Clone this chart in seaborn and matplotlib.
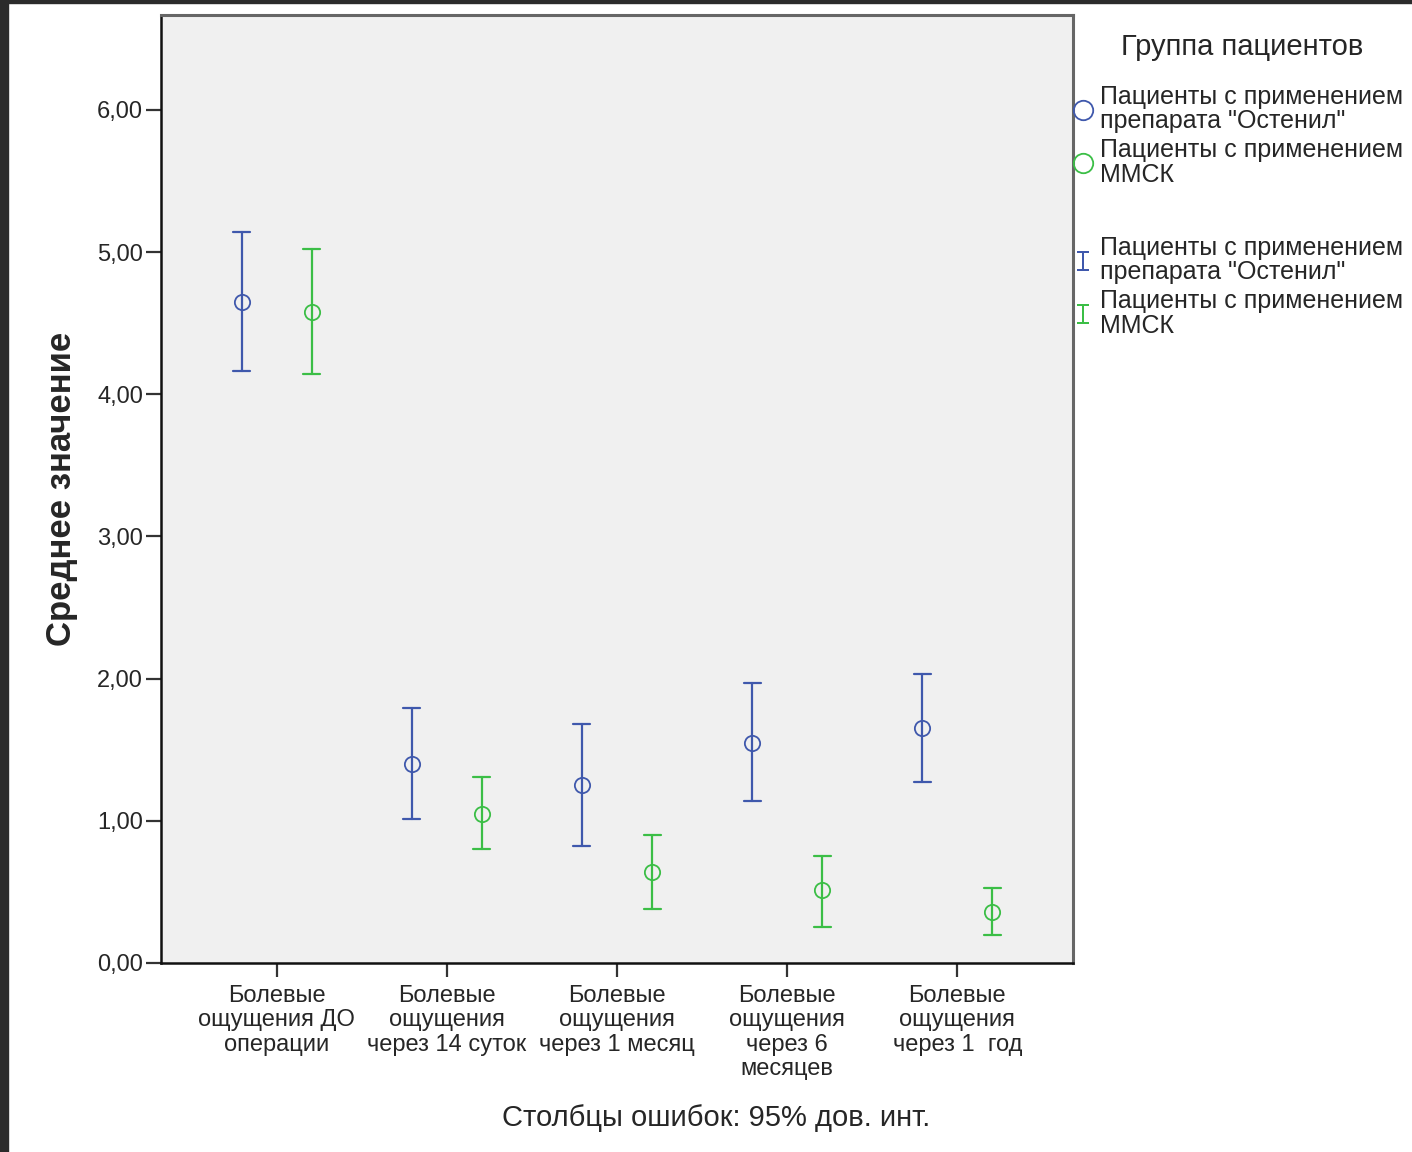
import numpy as np
import pandas as pd
import matplotlib
matplotlib.use("Agg")
import matplotlib.pyplot as plt
from matplotlib.lines import Line2D
from matplotlib.patches import Rectangle
from matplotlib.ticker import FuncFormatter
import seaborn as sns

# категории (ось X)
categories = [
    "Болевые\nощущения ДО\nоперации",
    "Болевые\nощущения\nчерез 14 суток",
    "Болевые\nощущения\nчерез 1 месяц",
    "Болевые\nощущения\nчерез 6\nмесяцев",
    "Болевые\nощущения\nчерез 1  год",
]
groups = [
    "Пациенты с применением\nпрепарата \"Остенил\"",
    "Пациенты с применением\nММСК",
]

# средние и границы 95% ДИ
ostenil_mean = [4.65, 1.40, 1.25, 1.55, 1.65]
ostenil_low = [4.16, 1.01, 0.82, 1.14, 1.27]
ostenil_high = [5.14, 1.79, 1.68, 1.97, 2.03]

mmsk_mean = [4.58, 1.05, 0.64, 0.51, 0.36]
mmsk_low = [4.14, 0.80, 0.38, 0.25, 0.20]
mmsk_high = [5.02, 1.31, 0.90, 0.75, 0.53]

colors = ["#3F58AC", "#3BBE46"]

# длинная таблица: нижняя граница, среднее, верхняя граница
rows = []
for g, (m, lo, hi) in zip(groups, [(ostenil_mean, ostenil_low, ostenil_high),
                                    (mmsk_mean, mmsk_low, mmsk_high)]):
    for c, a, b, d in zip(categories, lo, m, hi):
        for v in (a, b, d):
            rows.append({"cat": c, "group": g, "value": v})
df = pd.DataFrame(rows)

sns.set_style("ticks")
plt.rcParams["font.family"] = ["Liberation Sans", "DejaVu Sans"]

fig = plt.figure(figsize=(14.12, 11.52), dpi=100)
ax = fig.add_axes([161 / 1412, 1 - 963 / 1152, (1073 - 161) / 1412, (963 - 15) / 1152])

sns.pointplot(
    data=df, x="cat", y="value", hue="group",
    order=categories, hue_order=groups, palette=colors,
    estimator="median", errorbar=lambda v: (v.min(), v.max()),
    dodge=0.412, linestyle="none", markers="o", capsize=0.1,
    markersize=11, markeredgewidth=1.3, markerfacecolor="none",
    err_kws={"linewidth": 1.6}, legend=False, ax=ax,
)

ax.set_facecolor("#F0F0F0")
ax.set_xlim(-0.68, 4.68)
ax.set_ylim(0, 6.667)
ax.set_yticks(np.arange(0, 7, 1))
ax.yaxis.set_major_formatter(FuncFormatter(lambda v, p: f"{v:.2f}".replace(".", ",")))
ax.set_xticks(range(len(categories)))
ax.set_xticklabels(categories, linespacing=1.13)
ax.tick_params(axis="y", length=11, width=1.6, pad=2, labelsize=17, color="#333333")
ax.tick_params(axis="x", length=10, width=1.6, pad=6, labelsize=17, color="#333333")
ax.set_xlabel("")
ax.set_ylabel("Среднее значение", fontsize=25, fontweight="bold", labelpad=14)

for side in ["left", "bottom"]:
    ax.spines[side].set_color("#111111")
    ax.spines[side].set_linewidth(1.8)
for side in ["top", "right"]:
    ax.spines[side].set_visible(True)
    ax.spines[side].set_color("#666666")
    ax.spines[side].set_linewidth(2.2)

# заголовок легенды
fig.text(1242 / 1412, 1 - 47 / 1152, "Группа пациентов", ha="center", va="center", fontsize=21)

# легенда: маркеры
circle_handles = [
    Line2D([], [], linestyle="none", marker="o", markersize=14, markerfacecolor="none",
           markeredgecolor=c, markeredgewidth=1.3) for c in colors
]
leg1 = fig.legend(circle_handles, groups, fontsize=18, loc="upper left",
                  bbox_to_anchor=(1070 / 1412, 1 - 85 / 1152),
                  frameon=False, borderpad=0, borderaxespad=0, handlelength=1.0,
                  handletextpad=0.2, labelspacing=0.2)
for t in leg1.get_texts():
    t.set_linespacing(1.02)

# легенда: столбцы ошибок
bar_handles = [
    Line2D([], [], linestyle="none", marker=r"$\mathtt{I}$", markersize=15,
           color=c, markeredgewidth=0) for c in colors
]
leg2 = fig.legend(bar_handles, groups, fontsize=18, loc="upper left",
                  bbox_to_anchor=(1070 / 1412, 1 - 236 / 1152), frameon=False,
                  borderpad=0, borderaxespad=0, handlelength=1.0, handletextpad=0.2,
                  labelspacing=0.2)
for t in leg2.get_texts():
    t.set_linespacing(1.02)

fig.text(0.5074, 1 - 1118 / 1152, "Столбцы ошибок: 95% дов. инт.",
         ha="center", va="center", fontsize=21)

# тёмная рамка скриншота
fig.patches.append(Rectangle((0, 0), 8 / 1412, 1, transform=fig.transFigure,
                             color="#2B2B2B", zorder=-1))
fig.patches.append(Rectangle((0, 1 - 3 / 1152), 1, 3 / 1152, transform=fig.transFigure,
                             color="#2B2B2B", zorder=-1))

fig.savefig("out.png", dpi=100, facecolor="white")
